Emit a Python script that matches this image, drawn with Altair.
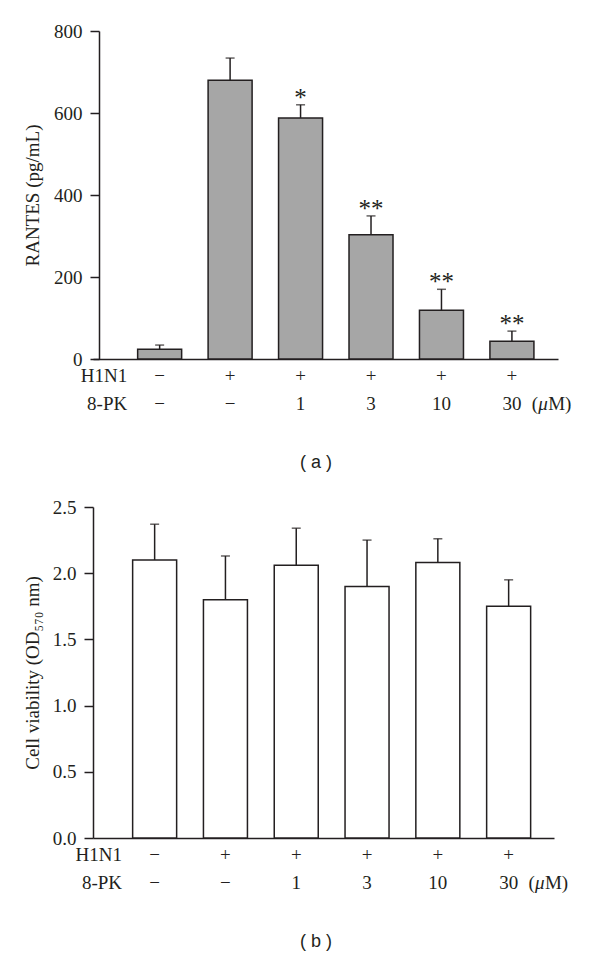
import altair as alt
import pandas as pd

# ---- data ----
idx = [0, 1, 2, 3, 4, 5]
h1n1 = ["−", "+", "+", "+", "+", "+"]
pk = ["−", "−", "1", "3", "10", "30"]

rantes = [24, 680, 588, 303, 119, 43]
rantes_top = [34, 734, 620, 349, 170, 68]
rantes_sig = ["", "", "*", "**", "**", "**"]

viab = [2.10, 1.80, 2.06, 1.90, 2.08, 1.75]
viab_top = [2.37, 2.13, 2.34, 2.25, 2.26, 1.95]

row_names = ["H1N1", "8-PK"]
unit_parts = ["(", "μ", "M)"]
rantes_ticks = [0, 200, 400, 600, 800]
viab_ticks = [0.0, 0.5, 1.0, 1.5, 2.0, 2.5]

SERIF = "Liberation Serif"
SANS = "Liberation Sans"
INK = "#231f20"


def panel(values, tops, fill, ydomain, yticks, fmt, ytitle, w, h, caption, xdomain,
          axis_offset, title_pad, cap_x, stars=None):
    df = pd.DataFrame({"i": idx, "v": values, "top": tops, "h1n1": h1n1, "pk": pk})
    if stars is not None:
        df["sig"] = stars

    xscale = alt.Scale(domain=xdomain, nice=False, zero=False)
    xaxis = alt.Axis(labels=False, ticks=False, grid=False, title=None,
                     domain=True, domainColor=INK, domainWidth=1.5)
    yscale = alt.Scale(domain=ydomain, nice=False)
    yaxis = alt.Axis(values=yticks, format=fmt, tickSize=9, tickColor=INK, tickWidth=1.5,
                     domainColor=INK, domainWidth=1.5, grid=False, offset=axis_offset,
                     labelFont=SERIF, labelFontSize=19, labelColor=INK, labelPadding=8,
                     title=ytitle, titleFont=SERIF, titleFontSize=19,
                     titleFontWeight="normal", titleColor=INK, titlePadding=title_pad)

    def X(field="i:Q"):
        return alt.X(field, scale=xscale, axis=xaxis)

    def Y(field):
        return alt.Y(field, scale=yscale, axis=yaxis)

    def label(text, xval, yoff, align, font=SERIF, size=19, style="normal", dx=0):
        return alt.Chart(pd.DataFrame({"t": [text]})).mark_text(
            font=font, fontSize=size, color=INK, align=align, baseline="middle",
            fontStyle=style, dx=dx).encode(
            x=alt.X(datum=xval, scale=xscale, axis=xaxis), y=alt.value(h + yoff), text="t:N")

    base = alt.Chart(df)
    bars = base.mark_bar(size=44, fill=fill, stroke=INK, strokeWidth=1.5).encode(
        x=X(), y=Y("v:Q"))
    stems = base.mark_rule(color=INK, strokeWidth=1.5).encode(
        x=X(), y=Y("v:Q"), y2="top:Q")
    caps = base.mark_tick(orient="horizontal", size=9, thickness=1.5, color=INK).encode(
        x=X(), y=Y("top:Q"))
    r1 = base.mark_text(font=SERIF, fontSize=19, color=INK, baseline="middle").encode(
        x=X(), y=alt.value(h + 17), text="h1n1:N")
    r2 = base.mark_text(font=SERIF, fontSize=19, color=INK, baseline="middle").encode(
        x=X(), y=alt.value(h + 45), text="pk:N")

    layers = [bars, stems, caps, r1, r2,
              label(row_names[0], -0.46, 17, "right"),
              label(row_names[1], -0.46, 45, "right"),
              label(unit_parts[0], 5.28, 45, "left"),
              label(unit_parts[1], 5.28, 45, "left", style="italic", dx=6.5),
              label(unit_parts[2], 5.28, 45, "left", dx=16.5),
              label(caption, cap_x, 104, "center", font=SANS, size=18)]
    if stars is not None:
        st = base.mark_text(font=SERIF, fontSize=25, color=INK, baseline="alphabetic", dy=1).encode(
            x=X(), y=Y("top:Q"), text="sig:N")
        layers.append(st)
    return alt.layer(*layers).properties(width=w, height=h)


top = panel(rantes, rantes_top, "#a6a6a6", [0, 800], rantes_ticks, "d",
            "RANTES (pg/mL)", 465, 328, "( a )", [-0.875, 5.583], -6, 11.5, 2.22,
            rantes_sig)
bot = panel(viab, viab_top, "#ffffff", [0, 2.5], viab_ticks, ".1f",
            "Cell viability (OD₅₇₀ nm)", 461, 331, "( b )", [-0.8, 5.57], 0, 10, 2.28)

chart = alt.concat(top, bot, columns=1, spacing=26).properties(
    padding={"left": 15, "top": 14, "right": 0, "bottom": 0},
    background="white",
).configure_view(stroke=None)

chart.save("out.html", embed_options={"renderer": "svg", "actions": False})
